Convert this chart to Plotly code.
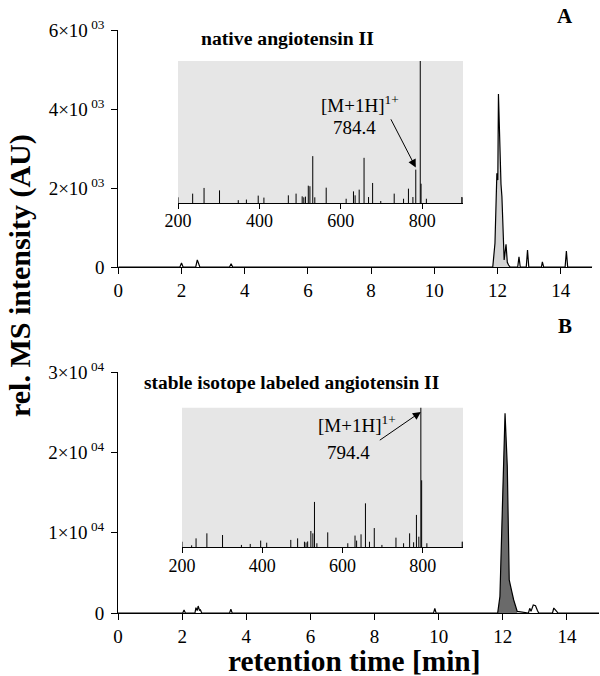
import plotly.graph_objects as go

# ---------------- data ----------------
# Panel A: native angiotensin II chromatogram (retention time [min], intensity AU)
time_a = [0, 1.95, 2.0, 2.05, 2.45, 2.5, 2.58, 3.52, 3.57, 3.62, 11.85, 11.92, 11.98, 12.01,
          12.03, 12.08, 12.11, 12.14, 12.18, 12.21, 12.27, 12.31, 12.35, 12.40, 12.64, 12.68,
          12.72, 12.91, 12.95, 12.99, 13.39, 13.42, 13.46, 14.14, 14.18, 14.22, 15.0]
int_a = [0, 0, 100, 0, 0, 180, 0, 0, 80, 0, 0, 600, 2370, 2200,
         4380, 2600, 2100, 1780, 700, 180, 575, 120, 50, 0, 0, 260,
         0, 0, 430, 0, 0, 130, 0, 0, 405, 0, 0]

# Panel B: stable isotope labeled angiotensin II chromatogram
time_b = [0, 2.02, 2.06, 2.10, 2.40, 2.43, 2.47, 2.50, 2.54, 2.57, 2.61, 3.48, 3.52, 3.56,
          9.84, 9.88, 9.92, 11.84, 11.91, 11.99, 12.07, 12.14, 12.20, 12.27, 12.34, 12.45,
          12.80, 12.84, 12.88, 12.95, 13.02, 13.08, 13.12, 13.55, 13.59, 13.68, 13.72, 15.0]
int_b = [0, 0, 370, 0, 0, 660, 300, 870, 350, 400, 0, 0, 460, 0,
         0, 580, 0, 0, 2030, 14070, 24870, 18220, 4110, 2860, 1620, 200,
         0, 580, 200, 1000, 900, 300, 0, 0, 620, 200, 0, 0]

# Inset spectra: m/z and relative intensity (% of inset height)
mz_a = [236, 264, 302, 348, 368, 397, 411, 471, 490, 505, 509, 513, 520, 524, 531, 536,
        564, 613, 631, 635, 645, 657, 668, 678, 698, 731, 754, 766, 777, 784, 795, 797,
        810, 897]
rel_a = [6.6, 10.6, 8.9, 2.0, 2.4, 5.2, 3.8, 5.4, 6.6, 4.7, 4.0, 4.5, 12.2, 11.8, 33.0, 4.0,
         10.8, 3.0, 8.2, 5.4, 9.4, 31.8, 4.2, 14.1, 1.4, 6.6, 3.0, 10.1, 4.2, 23.5, 130, 13.6,
         3.0, 4.2]

mz_b = [224, 235, 262, 301, 348, 370, 396, 411, 471, 488, 505, 509, 513, 521, 526, 530, 536,
        563, 613, 631, 635, 646, 657, 667, 679, 698, 733, 752, 767, 777, 784, 790, 795, 797,
        810, 898]
rel_b = [1.4, 6.4, 10.0, 8.8, 1.7, 2.4, 4.8, 3.3, 5.3, 6.4, 4.0, 3.5, 4.2, 11.7, 10.0, 32.5, 2.9,
         10.7, 2.9, 8.4, 4.8, 9.3, 31.5, 4.0, 13.8, 1.7, 6.9, 2.9, 10.0, 3.6, 23.2, 7.6, 130, 48,
         2.9, 4.0]

ytick_a_vals = [0, 2000, 4000, 6000]
ytick_a_text = ["0", "2×10<sup> 03</sup>", "4×10<sup> 03</sup>", "6×10<sup> 03</sup>"]
ytick_b_vals = [0, 10000, 20000, 30000]
ytick_b_text = ["0", "1×10<sup> 04</sup>", "2×10<sup> 04</sup>", "3×10<sup> 04</sup>"]
xtick_vals = [0, 2, 4, 6, 8, 10, 12, 14]
inset_ticks = [200, 400, 600, 800]

# ---------------- helpers ----------------
W, H = 600, 676
def px(x):
    return x / W
def py(y):
    return 1 - y / H

def sticks(mz, rel):
    xs, ys = [], []
    for m, r in zip(mz, rel):
        xs += [m, m, None]
        ys += [0, r, None]
    return xs, ys

FONT = "Liberation Serif, Times New Roman, serif"
fig = go.Figure()

# Panel A fill + line
fa_t = [t for t in time_a if 11.8 <= t <= 12.45]
fa_i = [i for t, i in zip(time_a, int_a) if 11.8 <= t <= 12.45]
fig.add_trace(go.Scatter(x=fa_t, y=fa_i, mode="lines", fill="tozeroy",
                         fillcolor="#d4d4d4", line=dict(color="rgba(0,0,0,0)", width=0),
                         xaxis="x", yaxis="y", hoverinfo="skip"))
fig.add_trace(go.Scatter(x=time_a, y=int_a, mode="lines", line=dict(color="black", width=1.2),
                         xaxis="x", yaxis="y"))

# Panel B fill + line
fb_t = [t for t in time_b if 11.8 <= t <= 12.5]
fb_i = [i for t, i in zip(time_b, int_b) if 11.8 <= t <= 12.5]
fig.add_trace(go.Scatter(x=fb_t, y=fb_i, mode="lines", fill="tozeroy",
                         fillcolor="#6a6a6a", line=dict(color="rgba(0,0,0,0)", width=0),
                         xaxis="x2", yaxis="y2", hoverinfo="skip"))
fig.add_trace(go.Scatter(x=time_b, y=int_b, mode="lines", line=dict(color="black", width=1.2),
                         xaxis="x2", yaxis="y2"))

# Insets
sx, sy = sticks(mz_a, rel_a)
fig.add_trace(go.Scatter(x=sx, y=sy, mode="lines", line=dict(color="black", width=1),
                         xaxis="x3", yaxis="y3"))
sx, sy = sticks(mz_b, rel_b)
fig.add_trace(go.Scatter(x=sx, y=sy, mode="lines", line=dict(color="black", width=1),
                         xaxis="x4", yaxis="y4"))

axis_common = dict(showline=True, linecolor="black", linewidth=1, ticks="outside",
                   ticklen=6, tickcolor="black", tickwidth=1, showgrid=False, zeroline=False,
                   automargin=False,
                   tickfont=dict(family=FONT, size=19, color="black"))

fig.update_layout(
    width=W, height=H, margin=dict(l=0, r=0, t=0, b=0, pad=0, autoexpand=False),
    paper_bgcolor="white", plot_bgcolor="rgba(0,0,0,0)", showlegend=False,
    xaxis=dict(axis_common, domain=[px(118.3), px(592.3)], range=[0, 15],
               tickvals=xtick_vals, anchor="y"),
    yaxis=dict(axis_common, domain=[py(267), py(30)], range=[0, 6000],
               tickvals=ytick_a_vals, ticktext=ytick_a_text, anchor="x",
               ticklabelstandoff=3),
    xaxis2=dict(axis_common, domain=[px(118), px(599)], range=[0, 15],
                tickvals=xtick_vals, anchor="y2"),
    yaxis2=dict(axis_common, domain=[py(613), py(372)], range=[0, 30000],
                tickvals=ytick_b_vals, ticktext=ytick_b_text, anchor="x2",
                ticklabelstandoff=3),
    xaxis3=dict(axis_common, domain=[px(178), px(463)], range=[200, 900],
                tickvals=inset_ticks, anchor="y3", ticklen=5, ticklabelstandoff=-4,
                tickfont=dict(family=FONT, size=18, color="black")),
    yaxis3=dict(domain=[py(203), py(61)], range=[0, 100], visible=False, anchor="x3"),
    xaxis4=dict(axis_common, domain=[px(182), px(463)], range=[200, 900],
                tickvals=inset_ticks, anchor="y4", ticklen=5, ticklabelstandoff=-3,
                tickfont=dict(family=FONT, size=18, color="black")),
    yaxis4=dict(domain=[py(547.3), py(407.7)], range=[0, 100], visible=False, anchor="x4"),
)

# gray inset backgrounds and end ticks
for xr, yr in (("x3", "y3"), ("x4", "y4")):
    fig.add_shape(type="rect", xref=xr + " domain", yref=yr + " domain", x0=0, x1=1, y0=0, y1=1,
                  fillcolor="#e6e6e6", line=dict(width=0), layer="below")
    for xv in (200, 900):
        fig.add_shape(type="line", xref=xr, yref=yr + " domain", x0=xv, x1=xv, y0=0, y1=0.04,
                      line=dict(color="black", width=1))

def txt(s, x, y, size, bold=False, **kw):
    fig.add_annotation(text=("<b>%s</b>" % s) if bold else s, x=px(x), y=py(y),
                       xref="paper", yref="paper", showarrow=False,
                       xanchor="center", yanchor="middle",
                       font=dict(family=FONT, size=size, color="black"), **kw)

txt("A", 565, 16, 21, bold=True)
txt("B", 565, 326, 21, bold=True)
txt("native angiotensin II", 287, 38, 19.7, bold=True)
txt("stable isotope labeled angiotensin II", 291, 383, 19.4, bold=True)
txt("[M+1H]<sup>1+</sup>", 360, 104, 19)
txt("784.4", 354, 128, 19)
txt("[M+1H]<sup>1+</sup>", 357, 424, 19)
txt("794.4", 348, 452, 19)
txt("rel. MS intensity (AU)", 20, 276, 30, bold=True, textangle=-90)
txt("retention time [min]", 354, 661, 29.4, bold=True)

# arrows (tail position given in the inset's own data coordinates)
fig.add_annotation(x=784, y=25, xref="x3", yref="y3", ax=721, ay=60,
                   axref="x3", ayref="y3", text="", showarrow=True,
                   arrowhead=2, arrowsize=1.6, arrowwidth=1, arrowcolor="black")
fig.add_annotation(x=795, y=97, xref="x4", yref="y4", ax=689, ay=76,
                   axref="x4", ayref="y4", text="", showarrow=True,
                   arrowhead=2, arrowsize=1.6, arrowwidth=1, arrowcolor="black")

fig.write_html("out.html", config={"displayModeBar": False},
               post_script="document.body.style.margin='0';document.body.style.overflow='hidden';")
